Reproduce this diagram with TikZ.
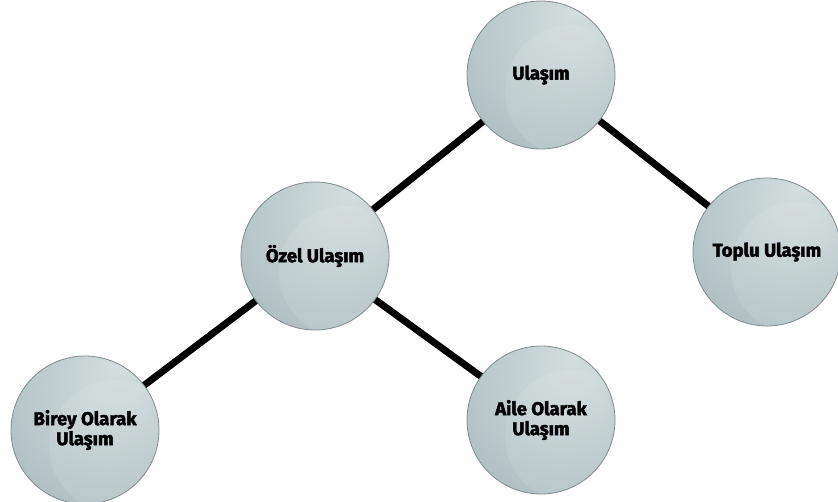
\documentclass[tikz,border=0pt]{standalone}
\usepackage{fontspec}
\setmainfont{Fira Sans}[BoldFeatures={FakeBold=2.2}]
\begin{document}
\definecolor{orbhi}{RGB}{212,222,222}
\definecolor{orbmid}{RGB}{182,198,200}
\definecolor{orblo}{RGB}{150,166,169}
\definecolor{orbedge}{RGB}{128,138,140}
\pgfdeclareradialshading{orb}{\pgfpoint{12bp}{22bp}}{%
  color(0bp)=(orbhi); color(30bp)=(orbmid); color(62bp)=(orblo)}
\begin{tikzpicture}[x=1pt,y=-1pt,
  orbnode/.style={circle, minimum size=148pt, inner sep=0pt,
    draw=orbedge, line width=0.8pt, shading=orb,
    font=\bfseries\fontsize{18.5}{20}\selectfont, align=center,
    path picture={\fill[white,opacity=0.10]
      ([xshift=30pt,yshift=-16pt]path picture bounding box.center) circle (66pt);}},
  link/.style={line width=7pt, black}]
  \useasboundingbox (0,0) rectangle (838,501);
  % connectors first, so the circles sit on top of them
  \coordinate (c-root)  at (541,75);
  \coordinate (c-ozel)  at (315,256);
  \coordinate (c-toplu) at (767,252);
  \coordinate (c-birey) at (85,430);
  \coordinate (c-aile)  at (541,420);
  \draw[link] (c-root) -- (c-ozel);
  \draw[link] (c-root) -- (c-toplu);
  \draw[link] (c-ozel) -- (c-birey);
  \draw[link] (c-ozel) -- (c-aile);
  \node[orbnode] (root)  at (c-root)  {Ulaşım};
  \node[orbnode] (ozel)  at (c-ozel)  {Özel Ulaşım};
  \node[orbnode] (toplu) at (c-toplu) {Toplu Ulaşım};
  \node[orbnode] (birey) at (c-birey) {Birey Olarak\\Ulaşım};
  \node[orbnode] (aile)  at (c-aile)  {Aile Olarak\\Ulaşım};
\end{tikzpicture}
\end{document}
